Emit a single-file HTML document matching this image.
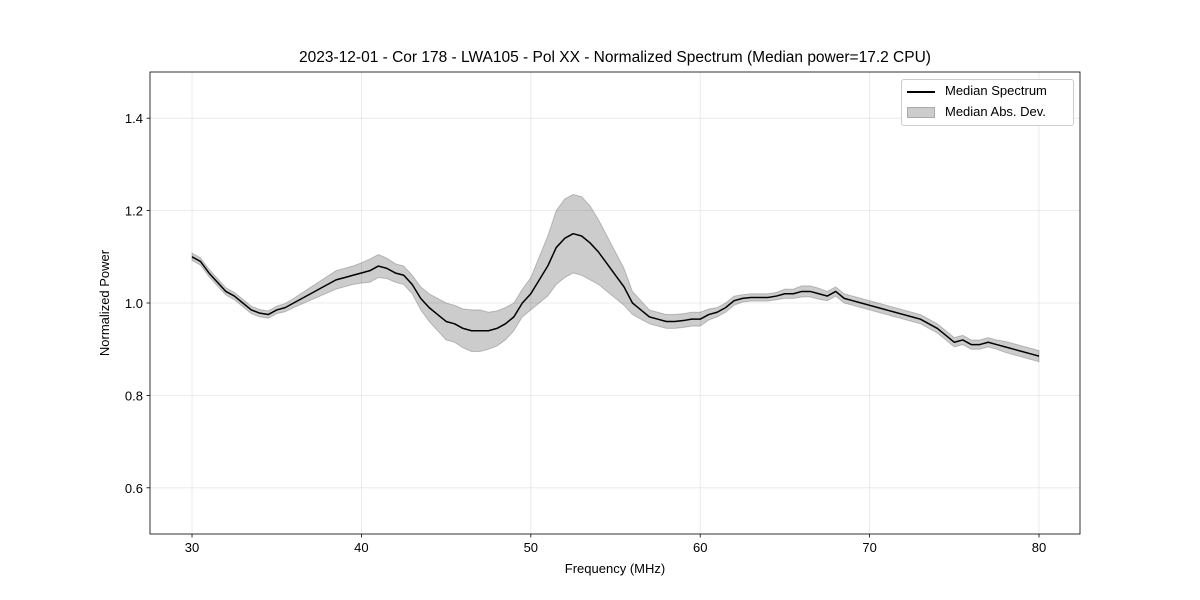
<!DOCTYPE html>
<html><head><meta charset="utf-8"><style>
body{margin:0;background:#fff;}
svg{display:block;font-family:"Liberation Sans","DejaVu Sans",sans-serif;}
</style></head><body>
<svg id="chart" width="1200" height="600"></svg>
<script>
const freqs=[30,30.5,31,31.5,32,32.5,33,33.5,34,34.5,35,35.5,36,36.5,37,37.5,38,38.5,39,39.5,40,40.5,41,41.5,42,42.5,43,43.5,44,44.5,45,45.5,46,46.5,47,47.5,48,48.5,49,49.5,50,50.5,51,51.5,52,52.5,53,53.5,54,54.5,55,55.5,56,56.5,57,57.5,58,58.5,59,59.5,60,60.5,61,61.5,62,62.5,63,63.5,64,64.5,65,65.5,66,66.5,67,67.5,68,68.5,69,69.5,70,70.5,71,71.5,72,72.5,73,73.5,74,74.5,75,75.5,76,76.5,77,77.5,78,78.5,79,79.5,80];
const median=[1.10,1.09,1.065,1.045,1.025,1.015,1.0,0.985,0.978,0.975,0.985,0.99,1.0,1.01,1.02,1.03,1.04,1.05,1.055,1.06,1.065,1.07,1.08,1.075,1.065,1.06,1.04,1.01,0.99,0.975,0.96,0.955,0.945,0.94,0.94,0.94,0.945,0.955,0.97,1.0,1.02,1.05,1.08,1.12,1.14,1.15,1.145,1.13,1.11,1.085,1.06,1.035,1.0,0.985,0.97,0.965,0.96,0.96,0.962,0.965,0.965,0.975,0.98,0.99,1.005,1.01,1.012,1.012,1.012,1.015,1.02,1.02,1.025,1.025,1.02,1.015,1.025,1.01,1.005,1.0,0.995,0.99,0.985,0.98,0.975,0.97,0.965,0.955,0.945,0.93,0.915,0.92,0.91,0.91,0.915,0.91,0.905,0.9,0.895,0.89,0.885];
const mad=[0.008,0.008,0.008,0.008,0.008,0.008,0.008,0.008,0.008,0.008,0.008,0.009,0.01,0.012,0.014,0.016,0.018,0.02,0.02,0.02,0.022,0.025,0.025,0.022,0.02,0.02,0.02,0.025,0.03,0.035,0.04,0.04,0.042,0.045,0.045,0.04,0.038,0.035,0.03,0.03,0.035,0.05,0.065,0.08,0.085,0.085,0.085,0.08,0.07,0.06,0.05,0.04,0.025,0.02,0.015,0.015,0.015,0.015,0.015,0.015,0.015,0.012,0.01,0.01,0.01,0.008,0.008,0.008,0.008,0.008,0.01,0.01,0.012,0.012,0.012,0.01,0.01,0.01,0.01,0.01,0.01,0.01,0.01,0.01,0.01,0.01,0.01,0.01,0.01,0.01,0.01,0.01,0.01,0.01,0.01,0.01,0.012,0.012,0.012,0.012,0.012];
const xTicks=[30,40,50,60,70,80];
const yTicks=[0.6,0.8,1.0,1.2,1.4];
const yLabels=["0.6","0.8","1.0","1.2","1.4"];

const L=150,R=1080,T=72,B=534;
const xmin=27.52,xmax=82.42,ymin=0.5,ymax=1.5;
const sx=v=>L+(v-xmin)/(xmax-xmin)*(R-L);
const sy=v=>B-(v-ymin)/(ymax-ymin)*(B-T);
const svg=document.getElementById('chart');
const NS='http://www.w3.org/2000/svg';
function mk(tag,attrs,parent){const e=document.createElementNS(NS,tag);for(const k in attrs)e.setAttribute(k,attrs[k]);(parent||svg).appendChild(e);return e;}

xTicks.forEach(t=>{
  const g=mk('line',{x1:sx(t),x2:sx(t),y1:T,y2:B,stroke:'#b0b0b0','stroke-width':0.8,'stroke-opacity':0.3});
  
  
});
yTicks.forEach(t=>{
  const g=mk('line',{x1:L,x2:R,y1:sy(t),y2:sy(t),stroke:'#b0b0b0','stroke-width':0.8,'stroke-opacity':0.3});
  
  
});
let up=freqs.map((f,i)=>sx(f)+','+sy(median[i]+mad[i]));
let lo=freqs.map((f,i)=>sx(f)+','+sy(median[i]-mad[i])).reverse();
const band=mk('polygon',{points:up.concat(lo).join(' '),fill:'#000','fill-opacity':0.2,stroke:'#000','stroke-opacity':0.2,'stroke-width':1});


const line=mk('polyline',{points:freqs.map((f,i)=>sx(f)+','+sy(median[i])).join(' '),fill:'none',stroke:'#000','stroke-width':1.5,'stroke-linejoin':'round'});


const fr=mk('rect',{x:L,y:T,width:R-L,height:B-T,fill:'none',stroke:'#000','stroke-width':0.8});


xTicks.forEach(t=>{
  mk('line',{x1:sx(t),x2:sx(t),y1:B,y2:B+3.5,stroke:'#000','stroke-width':0.8});
  const tx=mk('text',{x:sx(t),y:B+18,'text-anchor':'middle','font-size':13});
  tx.textContent=t;
  
  
});
yTicks.forEach((t,i)=>{
  mk('line',{x1:L-3.5,x2:L,y1:sy(t),y2:sy(t),stroke:'#000','stroke-width':0.8});
  const tx=mk('text',{x:L-7,y:sy(t)+5,'text-anchor':'end','font-size':13});
  tx.textContent=yLabels[i];
  
  
});
const yt=mk('text',{x:0,y:0,'text-anchor':'middle','font-size':13,transform:'translate(109,303) rotate(-90)'});
yt.textContent='Normalized Power';


</script>
<div style="position:absolute;left:0;top:0;width:1200px;height:600px;pointer-events:none;font-family:'Liberation Sans','DejaVu Sans',sans-serif;">
  <div style="position:absolute;left:0;width:1230px;top:49px;text-align:center;font-size:15.5px;">2023-12-01 - Cor 178 - LWA105 - Pol XX - Normalized Spectrum (Median power=17.2 CPU)</div>
  <div style="position:absolute;left:465px;width:300px;top:561px;text-align:center;font-size:13px;">Frequency (MHz)</div>
  <div style="position:absolute;left:901px;top:79px;width:171px;height:45px;border:1px solid #ccc;border-radius:3px;background:#fff;font-size:13px;">
    <div style="position:absolute;left:5px;top:3px;white-space:nowrap;"><span style="display:inline-block;width:28px;height:2px;background:#000;vertical-align:middle;margin-right:10px;"></span>Median Spectrum</div>
    <div style="position:absolute;left:5px;top:24px;white-space:nowrap;"><span style="display:inline-block;width:26px;height:9px;background:#ccc;border:1px solid #aaa;vertical-align:middle;margin-right:10px;"></span>Median Abs. Dev.</div>
  </div>
</div>
</body></html>
